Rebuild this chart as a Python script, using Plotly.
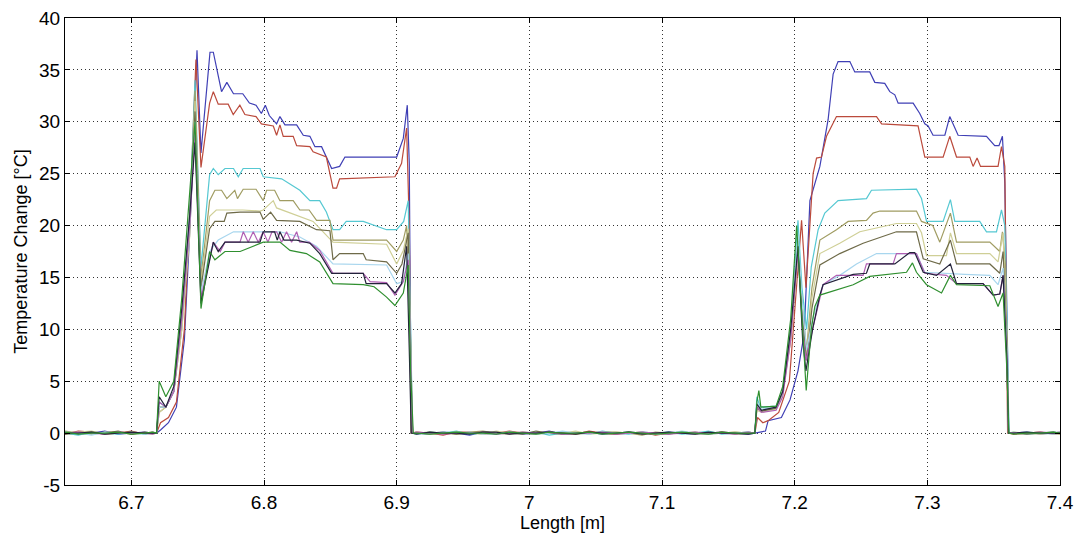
import plotly.graph_objects as go

# ---------------- data ----------------
X_TICKS = [6.7, 6.8, 6.9, 7.0, 7.1, 7.2, 7.3, 7.4]
X_TICK_TEXT = ["6.7", "6.8", "6.9", "7", "7.1", "7.2", "7.3", "7.4"]
Y_TICKS = [-5, 0, 5, 10, 15, 20, 25, 30, 35, 40]
Y_TICK_TEXT = ["-5", "0", "5", "10", "15", "20", "25", "30", "35", "40"]

BASE_L_X = [6.650, 6.660, 6.670, 6.680, 6.690, 6.700, 6.710, 6.716]
BASE_M_X = [6.915, 6.925, 6.935, 6.945, 6.955, 6.965, 6.975, 6.985, 6.995, 7.005,
            7.015, 7.025, 7.035, 7.045, 7.055, 7.065, 7.075, 7.085, 7.095, 7.105,
            7.115, 7.125, 7.135, 7.145, 7.155, 7.165]
BASE_R_X = [7.365, 7.375, 7.385, 7.395, 7.400]

BLUE_NOISE = [0.1,-0.1,0.0,0.2,-0.1,0.0,0.1,0.0, 0.0,-0.1,0.1,0.0,-0.2,0.1,0.0,0.1,-0.1,0.0,0.2,-0.1,0.0,0.1,-0.1,0.0,0.1,0.0,-0.1,0.1,0.0,-0.1,0.0,0.1,0.0,-0.1, 0.0,0.1,-0.1,0.0,0.1]
RED_NOISE = [-0.1,0.2,0.1,-0.1,0.0,0.2,-0.1,0.1, 0.1,0.0,-0.2,0.1,0.1,-0.1,0.0,0.2,0.0,-0.1,0.1,0.0,-0.1,0.2,0.0,-0.1,0.0,0.1,-0.2,0.0,0.1,0.0,-0.1,0.1,0.0,0.1, -0.1,0.0,0.1,-0.1,0.0]
CYAN_NOISE = [0.0,-0.2,0.1,0.0,-0.1,0.1,-0.1,0.0, -0.1,0.1,0.0,0.2,-0.1,0.0,-0.1,0.1,0.0,0.1,-0.2,0.0,0.1,-0.1,0.2,0.0,-0.1,0.1,0.0,0.1,-0.1,0.0,0.2,-0.1,0.0,0.1, 0.1,-0.1,0.0,0.1,0.0]
OLIVE_NOISE = [0.2,0.0,-0.1,0.1,0.1,-0.1,0.0,0.1, 0.0,0.1,0.0,-0.1,0.1,0.2,0.0,-0.1,0.1,0.0,0.0,0.1,-0.1,0.0,0.1,0.1,0.0,-0.2,0.1,0.0,0.0,0.1,-0.1,0.0,0.1,0.0, 0.0,0.0,0.1,0.0,-0.1]
YELLOW_NOISE = [0.0,0.1,0.2,-0.1,0.0,0.1,0.0,-0.1, 0.1,-0.1,0.0,0.1,0.0,-0.1,0.2,0.0,0.1,-0.1,0.0,0.0,0.2,-0.1,0.0,0.1,0.0,0.1,-0.1,0.0,0.1,-0.1,0.0,0.0,0.1,0.0, 0.1,0.0,-0.1,0.0,0.1]
DKOLIVE_NOISE = [-0.1,0.0,0.1,0.0,0.2,-0.1,0.1,0.0, 0.0,0.0,0.1,-0.1,0.0,0.1,0.0,0.0,-0.1,0.2,0.0,-0.1,0.0,0.1,0.0,-0.1,0.1,0.0,0.0,-0.1,0.1,0.0,0.0,0.1,-0.1,0.0, 0.0,-0.1,0.0,0.1,0.0]
LTBLUE_NOISE = [0.1,0.0,-0.2,0.1,0.0,0.0,-0.1,0.1, -0.1,0.0,0.1,0.0,0.1,-0.1,0.0,0.1,0.0,-0.1,0.0,0.2,0.0,-0.1,0.1,0.0,0.0,0.1,-0.1,0.0,0.2,0.0,-0.1,0.0,0.0,0.1, 0.0,0.1,0.0,-0.1,0.0]
PURPLE_NOISE = [0.0,0.1,0.0,-0.1,0.1,0.0,0.0,-0.1, 0.1,0.0,-0.1,0.0,0.0,0.1,-0.1,0.0,0.1,0.0,0.1,-0.1,0.0,0.0,0.1,-0.1,0.0,0.1,0.0,-0.1,0.0,0.1,0.0,0.0,-0.1,0.1, 0.0,0.0,0.1,0.0,0.0]
BLACK_NOISE = [0.0,0.0,0.1,-0.1,0.0,0.1,0.0,0.0, -0.1,0.1,0.0,0.0,-0.1,0.1,0.1,-0.1,0.0,0.0,0.1,0.0,-0.1,0.1,0.0,0.0,0.1,-0.1,0.0,0.1,0.0,-0.1,0.1,0.0,0.0,-0.1, 0.0,0.1,0.0,0.0,0.0]
GREEN_NOISE = [0.1,-0.1,0.0,0.0,0.1,-0.1,0.0,0.1, 0.0,-0.1,0.0,0.1,0.0,0.0,-0.1,0.1,0.0,-0.1,0.1,0.0,0.0,0.1,-0.1,0.0,0.1,0.0,-0.1,0.0,0.1,0.0,-0.1,0.1,0.0,0.0, -0.1,0.0,0.0,0.1,0.0]

BLUE_P1 = [(6.719,0),(6.722,0.3),(6.728,1.0),(6.734,2.5),(6.740,9),(6.745,22),(6.7495,36.9),(6.7525,27),(6.7593,36.7),(6.7618,36.7),(6.768,32.9),(6.772,33.8),(6.777,32.7),(6.784,32.7),(6.789,31.8),(6.794,31.6),(6.798,30.8),(6.801,31.6),(6.804,30.6),(6.8095,29.8),(6.812,30.5),(6.8158,29.7),(6.8246,29.7),(6.8296,28.7),(6.8346,28.6),(6.8384,27.6),(6.8434,27.6),(6.851,25.5),(6.857,25.7),(6.861,26.6),(6.900,26.6),(6.905,28.4),(6.908,31.6),(6.9095,26),(6.911,0)]
BLUE_P2 = [(7.170,0),(7.178,0.2),(7.180,1.2),(7.190,1.5),(7.1965,3.2),(7.2025,6),(7.2072,9.6),(7.2115,22.4),(7.2190,25.7),(7.2252,30.2),(7.2290,34.6),(7.2327,35.8),(7.2416,35.8),(7.2453,34.8),(7.2566,34.8),(7.2604,33.8),(7.2679,33.7),(7.2717,32.9),(7.2755,32.6),(7.2780,31.8),(7.2893,31.8),(7.2943,30.8),(7.2981,29.8),(7.3006,29.6),(7.3043,28.7),(7.3132,28.7),(7.3169,30.5),(7.3232,28.7),(7.3446,28.6),(7.3508,27.7),(7.3540,27.7),(7.3566,28.6),(7.3584,24.1),(7.3614,0)]

RED_P1 = [(6.719,0),(6.722,1.0),(6.728,1.5),(6.734,3),(6.740,10),(6.745,24),(6.7487,36.0),(6.7525,25.6),(6.759,31.8),(6.7618,32.9),(6.7655,31.7),(6.773,31.7),(6.7768,30.7),(6.7818,31.6),(6.7856,30.7),(6.794,30.5),(6.798,29.8),(6.807,29.6),(6.8095,28.7),(6.812,29.7),(6.8145,28.6),(6.822,28.6),(6.8246,27.7),(6.8346,27.6),(6.837,27.1),(6.847,26.6),(6.852,23.6),(6.8547,23.6),(6.857,24.5),(6.8987,24.7),(6.9037,26.0),(6.9075,29.4),(6.9095,20),(6.911,0)]
RED_P2 = [(7.170,0),(7.172,1.5),(7.176,1.0),(7.180,1.2),(7.188,2),(7.196,5),(7.200,12),(7.2052,20.5),(7.2085,14),(7.2139,25.0),(7.2165,26.5),(7.2202,26.6),(7.2240,28.6),(7.2278,29.5),(7.2315,30.5),(7.2617,30.5),(7.2655,29.8),(7.2930,29.6),(7.2956,28.2),(7.2981,26.6),(7.3119,26.6),(7.3169,28.6),(7.3220,26.6),(7.3320,26.6),(7.3345,25.7),(7.3375,26.5),(7.3401,25.7),(7.3533,25.7),(7.3559,27.6),(7.3584,25.7),(7.3605,0)]

CYAN_P1 = [(6.719,0),(6.721,3),(6.726,2.5),(6.732,4),(6.738,11),(6.744,21),(6.748,34),(6.7525,16),(6.759,24.9),(6.7618,25.5),(6.7655,24.9),(6.7706,25.5),(6.777,25.5),(6.7806,24.7),(6.7843,25.5),(6.797,25.5),(6.7994,24.7),(6.8133,24.5),(6.8196,24.0),(6.827,23.4),(6.8346,22.4),(6.842,22.4),(6.847,21.3),(6.852,19.6),(6.857,19.6),(6.862,20.4),(6.8748,20.4),(6.8924,19.6),(6.900,19.6),(6.9053,20.4),(6.9087,22.4),(6.9105,10),(6.912,0)]
CYAN_P2 = [(7.170,0),(7.1715,3.5),(7.174,2.5),(7.186,2.6),(7.191,4),(7.197,10),(7.2025,20.5),(7.2055,14),(7.209,10),(7.2125,16),(7.2177,19.6),(7.2227,21.2),(7.2327,22.4),(7.2541,22.6),(7.2579,23.4),(7.2918,23.5),(7.2956,22.6),(7.2994,20.4),(7.3119,20.4),(7.3174,22.5),(7.3207,20.4),(7.3395,20.4),(7.3446,19.4),(7.3521,19.4),(7.3559,21.5),(7.3584,20.0),(7.3605,8),(7.3615,0)]

OLIVE_P1 = [(6.719,0),(6.721,2),(6.726,2.5),(6.732,4),(6.738,10),(6.744,20),(6.748,33),(6.7525,15),(6.759,22.4),(6.763,23.4),(6.768,23.4),(6.772,22.6),(6.778,23.4),(6.780,22.6),(6.7843,23.5),(6.794,23.5),(6.7994,22.4),(6.802,23.4),(6.808,23.4),(6.812,22.4),(6.822,22.4),(6.827,21.5),(6.834,21.5),(6.8396,20.5),(6.8497,20.5),(6.852,18.6),(6.8924,18.6),(6.900,17.5),(6.905,18.6),(6.9075,20.0),(6.9095,12),(6.911,0)]
OLIVE_P2 = [(7.170,0),(7.1715,2.5),(7.175,2.2),(7.186,2.4),(7.191,4),(7.197,9),(7.2025,18),(7.206,12),(7.209,8),(7.213,14),(7.219,18.6),(7.2315,19.6),(7.2403,20.4),(7.2541,20.5),(7.2591,21.2),(7.2642,21.4),(7.2918,21.4),(7.2956,20.4),(7.3041,20.0),(7.3094,18.4),(7.3174,21.2),(7.3220,18.4),(7.3471,18.4),(7.3546,17.5),(7.3566,19.4),(7.3590,16),(7.3610,0)]

YELLOW_P1 = [(6.719,0),(6.721,2),(6.726,2.5),(6.732,4),(6.738,10),(6.744,19),(6.748,32),(6.7525,14.5),(6.759,20.9),(6.764,21.5),(6.784,21.5),(6.797,21.4),(6.7994,21.5),(6.807,22.4),(6.8095,21.7),(6.827,20.9),(6.837,20.4),(6.852,18.4),(6.8924,18.2),(6.900,16.3),(6.905,17.6),(6.9087,19.7),(6.9105,8),(6.912,0)]
YELLOW_P2 = [(7.170,0),(7.1715,2.2),(7.175,2.0),(7.186,2.3),(7.191,3.8),(7.197,9),(7.2025,17),(7.206,11),(7.209,7.5),(7.213,13),(7.219,17.3),(7.2340,18.3),(7.2491,19.4),(7.2767,20.2),(7.2918,20.2),(7.2956,19.3),(7.2994,17.1),(7.3144,17.1),(7.3174,19.3),(7.3220,17.3),(7.3471,17.3),(7.3533,16.5),(7.3571,19.3),(7.3600,10),(7.3612,0)]

DKOLIVE_P1 = [(6.719,0),(6.721,2.5),(6.726,2.5),(6.732,4),(6.738,11),(6.744,20),(6.748,31),(6.7525,14),(6.759,19.7),(6.763,20.4),(6.770,20.4),(6.772,21.2),(6.782,21.3),(6.797,21.3),(6.7994,20.6),(6.805,21.3),(6.8095,20.5),(6.827,20.4),(6.8396,19.6),(6.8497,19.5),(6.852,16.7),(6.857,17.3),(6.8748,17.3),(6.877,16.7),(6.8924,16.5),(6.900,15.4),(6.904,16.3),(6.9087,19.3),(6.9105,8),(6.912,0)]
DKOLIVE_P2 = [(7.170,0),(7.1715,2.4),(7.175,2.1),(7.186,2.4),(7.191,4),(7.197,10),(7.2025,18.5),(7.206,11),(7.209,7),(7.213,12),(7.219,16.2),(7.2340,17.3),(7.2516,18.3),(7.2767,19.4),(7.2918,19.4),(7.2969,16.8),(7.3094,16.3),(7.3174,18.6),(7.3220,16.3),(7.3471,16.3),(7.3546,15.4),(7.3571,17.5),(7.3600,9),(7.3612,0)]

LTBLUE_P1 = [(6.719,0),(6.721,2.5),(6.726,2.5),(6.732,4),(6.738,11),(6.744,20),(6.748,30),(6.7525,13.5),(6.759,17.5),(6.7655,18.6),(6.777,19.4),(6.797,19.4),(6.812,19.4),(6.827,18.9),(6.8396,18.0),(6.852,16.3),(6.8924,16.2),(6.900,14.4),(6.905,14.6),(6.9087,17.3),(6.9105,8),(6.912,0)]
LTBLUE_P2 = [(7.170,0),(7.1715,3),(7.175,2.3),(7.186,2.5),(7.191,4),(7.197,10),(7.2025,19),(7.206,12),(7.209,8),(7.2135,11),(7.2214,14.3),(7.2340,15.2),(7.2466,16.3),(7.2617,17.3),(7.2918,17.3),(7.2981,15.5),(7.3282,15.3),(7.3471,15.2),(7.3533,14.3),(7.3571,15.9),(7.3600,8),(7.3612,0)]

PURPLE_P1 = [(6.719,0),(6.721,3),(6.726,2.5),(6.732,4),(6.738,11),(6.744,20),(6.748,29),(6.7525,13),(6.7618,18.4),(6.767,17.5),(6.7706,18.4),(6.7819,18.4),(6.7844,19.4),(6.7881,18.4),(6.7919,19.4),(6.7957,18.4),(6.7994,19.4),(6.803,18.4),(6.806,19.4),(6.8095,19.4),(6.8133,18.4),(6.817,19.4),(6.8208,18.4),(6.8246,19.4),(6.827,18.4),(6.834,18.4),(6.842,17.6),(6.852,15.4),(6.8748,15.4),(6.880,14.6),(6.8924,14.5),(6.8987,13.3),(6.905,14.6),(6.9087,16.7),(6.9105,7),(6.912,0)]
PURPLE_P2 = [(7.170,0),(7.1715,2.5),(7.175,2.0),(7.186,2.2),(7.191,3.5),(7.197,9),(7.2025,17.5),(7.206,10),(7.2085,7),(7.2135,10),(7.2214,14.3),(7.2315,15.2),(7.2516,15.2),(7.2541,16.3),(7.2742,16.3),(7.2767,17.3),(7.2918,17.3),(7.2981,15.4),(7.3144,15.2),(7.3220,14.4),(7.3420,14.4),(7.3496,13.3),(7.3546,13.4),(7.3571,15.2),(7.3600,7),(7.3612,0)]

BLACK_P1 = [(6.719,0),(6.721,3.5),(6.726,2.5),(6.732,4.5),(6.738,12),(6.744,21),(6.748,28),(6.7525,12.5),(6.7618,18.4),(6.7655,17.5),(6.7706,18.4),(6.797,18.4),(6.7994,19.4),(6.808,19.4),(6.810,18.6),(6.812,19.4),(6.815,18.6),(6.8246,18.6),(6.8346,18.3),(6.842,17.3),(6.851,15.4),(6.8748,15.4),(6.877,14.4),(6.8924,14.4),(6.8987,13.5),(6.9037,14.4),(6.9075,18),(6.9095,8),(6.911,0)]
BLACK_P2 = [(7.170,0),(7.1715,2.8),(7.175,2.2),(7.186,2.5),(7.191,4),(7.197,10),(7.2025,18),(7.206,9),(7.2085,6),(7.2135,10),(7.219,13.3),(7.2214,14.3),(7.2441,15.3),(7.2541,15.4),(7.2566,16.3),(7.2755,16.3),(7.2868,17.4),(7.2905,17.4),(7.2969,15.5),(7.3069,15.2),(7.3174,16.3),(7.3220,14.4),(7.3420,14.4),(7.3496,13.3),(7.3546,13.4),(7.3571,15.2),(7.3600,7),(7.3612,0)]

GREEN_P1 = [(6.719,0),(6.721,5),(6.726,3.5),(6.732,5),(6.738,13),(6.744,23),(6.748,30),(6.7525,12),(6.759,17.5),(6.763,16.7),(6.7706,17.5),(6.782,17.5),(6.7994,18.4),(6.812,18.4),(6.8196,17.6),(6.832,17.3),(6.842,16.5),(6.852,14.4),(6.8748,14.3),(6.883,14.1),(6.8924,13.1),(6.8987,12.3),(6.905,13.5),(6.9087,16.2),(6.9105,6),(6.9125,0)]
GREEN_P2 = [(7.170,0),(7.1715,3),(7.173,4.1),(7.1745,2.5),(7.186,2.6),(7.191,4.5),(7.197,11),(7.2015,20),(7.2045,13),(7.2087,4.1),(7.2125,10),(7.2152,12.2),(7.219,13.3),(7.2441,14.3),(7.2566,15.1),(7.2843,15.5),(7.2888,16.4),(7.2918,15.5),(7.2994,14.3),(7.3107,13.5),(7.3174,15.2),(7.3220,14.3),(7.3471,14.2),(7.3533,12.2),(7.3571,13.5),(7.3600,6),(7.3615,0)]

SERIES = [
    ("blue", BLUE_NOISE, BLUE_P1, BLUE_P2, "#3f3fb5"),
    ("red", RED_NOISE, RED_P1, RED_P2, "#bb4a3c"),
    ("cyan", CYAN_NOISE, CYAN_P1, CYAN_P2, "#55c8d2"),
    ("olive", OLIVE_NOISE, OLIVE_P1, OLIVE_P2, "#a09c62"),
    ("yellow", YELLOW_NOISE, YELLOW_P1, YELLOW_P2, "#cfcf96"),
    ("dkolive", DKOLIVE_NOISE, DKOLIVE_P1, DKOLIVE_P2, "#6e6a48"),
    ("ltblue", LTBLUE_NOISE, LTBLUE_P1, LTBLUE_P2, "#a8d6ee"),
    ("purple", PURPLE_NOISE, PURPLE_P1, PURPLE_P2, "#b060b4"),
    ("black", BLACK_NOISE, BLACK_P1, BLACK_P2, "#22223a"),
    ("green", GREEN_NOISE, GREEN_P1, GREEN_P2, "#2f8f2f"),
]

nL, nM = len(BASE_L_X), len(BASE_M_X)

fig = go.Figure()
for name, noise, p1, p2, color in SERIES:
    p1x = [p[0] for p in p1]
    p1y = [p[1] for p in p1]
    p2x = [p[0] for p in p2]
    p2y = [p[1] for p in p2]
    xs = BASE_L_X + p1x + BASE_M_X + p2x + BASE_R_X
    ys = noise[:nL] + p1y + noise[nL:nL + nM] + p2y + noise[nL + nM:]
    fig.add_trace(go.Scatter(x=xs, y=ys, mode="lines", name=name,
                             line=dict(color=color, width=1.2),
                             showlegend=False))

FONT = "Liberation Sans, Arial, sans-serif"
axis_common = dict(
    showline=True, linecolor="black", linewidth=1, mirror="ticks",
    ticks="inside", ticklen=5, tickcolor="black",
    showgrid=True, gridcolor="#333333", griddash="1px,3px", gridwidth=1,
    zeroline=False,
    tickfont=dict(family=FONT, size=19, color="black"),
)

fig.update_layout(
    width=1079, height=533,
    margin=dict(l=65, r=19, t=18, b=48),
    paper_bgcolor="white", plot_bgcolor="white",
    font=dict(family=FONT, color="black"),
    xaxis=dict(range=[6.65, 7.4], tickvals=X_TICKS, ticktext=X_TICK_TEXT,
               title=dict(text="Length [m]", font=dict(family=FONT, size=18), standoff=2),
               automargin=False, **axis_common),
    yaxis=dict(range=[-5, 40], tickvals=Y_TICKS, ticktext=Y_TICK_TEXT,
               title=dict(text="Temperature Change [°C]", font=dict(family=FONT, size=18), standoff=6),
               automargin=False, **axis_common),
)

fig.write_html("out.html")
